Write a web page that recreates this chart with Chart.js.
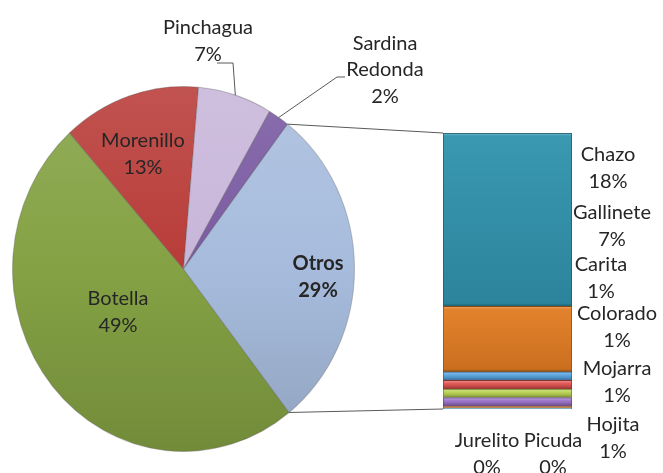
<!DOCTYPE html>
<html>
<head>
<meta charset="utf-8">
<script src="https://cdn.jsdelivr.net/npm/chart.js@4.4.1/dist/chart.umd.min.js"></script>
<style>
  html, body { margin: 0; padding: 0; background: #fff; }
  #wrap { position: relative; width: 663px; height: 473px; overflow: hidden; }
  #wrap canvas { position: absolute; left: 0; top: 0; }
</style>
</head>
<body>
<div id="wrap">
  <canvas id="pieChart" width="663" height="473"></canvas>
  <canvas id="barChart" width="663" height="473"></canvas>
</div>
<script>
// Pie: main species
const pieLabels = ["Botella", "Morenillo", "Pinchagua", "Sardina Redonda", "Otros"];
const pieValues = [49, 13, 7, 2, 29];
const pieColors = ["#84a244", "#b83c38", "#c8b6da", "#7a5aa2", "#a7bcdd"];

// Bar: breakdown of "Otros" (top to bottom)
const barLabels = ["Chazo", "Gallinete", "Carita", "Colorado", "Mojarra", "Hojita", "Picuda", "Jurelito"];
const barValues = [18.2, 6.9, 0.9, 0.9, 0.9, 0.9, 0.2, 0.1];
const barColors = ["#3093ad", "#e27b22", "#58a3df", "#e05352", "#b9d352", "#9a72c9", "#f0a064", "#7dc3da"];

// layout of text (block centres) and leader stubs
const pieTextPos = [[118, 312], [143, 154], [208, 41], [385, 70], [318, 277]];
const pieLeaders = { 2: [[217, 63], [233, 63]], 3: [[345, 77], [337, 77]] };
const barTextPos = [[608, 168], [612, 226], [601, 278], [617, 327], [617, 382], [613, 438], [553, 454], [487, 454]];
const SY = 183 / 171.5; // pie is drawn slightly taller than wide
const FONT = "Lato, 'Open Sans', sans-serif";
const LINE_H = 26.5;
const TEXT = "#262626";

function shade(hex, amt) {
  const n = parseInt(hex.slice(1), 16);
  let r = n >> 16, g = (n >> 8) & 255, b = n & 255;
  const t = amt < 0 ? 0 : 255, p = Math.abs(amt);
  r = Math.round(r + (t - r) * p);
  g = Math.round(g + (t - g) * p);
  b = Math.round(b + (t - b) * p);
  return `rgb(${r},${g},${b})`;
}

function drawBlock(ctx, lines, x, y, bold) {
  ctx.save();
  ctx.font = (bold ? "bold " : "") + "20px " + FONT;
  ctx.fillStyle = TEXT;
  ctx.textAlign = "center";
  ctx.textBaseline = "middle";
  const top = y - (lines.length - 1) * LINE_H / 2;
  lines.forEach((l, i) => ctx.fillText(l, x, top + i * LINE_H));
  ctx.restore();
}

function arcPoint(arc, angle) {
  return [arc.x + arc.outerRadius * Math.cos(angle), arc.y + arc.outerRadius * Math.sin(angle) * SY];
}

const pieTotal = pieValues.reduce((a, b) => a + b, 0);
const barTotal = barValues.reduce((a, b) => a + b, 0);

function pieFill(c) {
  const base = pieColors[c.dataIndex];
  const a = c.chart.chartArea;
  if (!a) return base;
  const g = c.chart.ctx.createLinearGradient(0, a.top, 0, a.bottom);
  g.addColorStop(0, shade(base, 0.12));
  g.addColorStop(0.5, base);
  g.addColorStop(1, shade(base, -0.14));
  return g;
}

function barFill(c) {
  const name = c.dataset.label;
  const i = barLabels.indexOf(name);
  const base = barColors[i];
  const y = c.chart.scales.y;
  if (!y || !c.chart.chartArea) return base;
  let below = 0;
  for (let k = i + 1; k < barLabels.length; k++) below += barValues[k];
  const yTop = y.getPixelForValue(below + barValues[i]);
  const yBot = y.getPixelForValue(below);
  const h = Math.max(yBot - yTop, 1);
  const g = c.chart.ctx.createLinearGradient(0, yTop, 0, yBot);
  const edge = Math.min(3 / h, 0.4);
  g.addColorStop(0, shade(base, 0.35));
  g.addColorStop(edge, shade(base, 0.05));
  g.addColorStop(1 - edge, shade(base, -0.1));
  g.addColorStop(1, shade(base, -0.35));
  return g;
}

const ellipsePlugin = {
  id: "ellipse",
  beforeDatasetsDraw(chart) {
    const arc = chart.getDatasetMeta(0).data[0];
    const ctx = chart.ctx;
    ctx.save();
    ctx.translate(arc.x, arc.y);
    ctx.scale(1, SY);
    ctx.translate(-arc.x, -arc.y);
  },
  afterDatasetsDraw(chart) {
    chart.ctx.restore();
  },
  afterDraw(chart) {
    const ctx = chart.ctx;
    const arcs = chart.getDatasetMeta(0).data;
    pieLabels.forEach((name, i) => {
      const pct = Math.round(pieValues[i] / pieTotal * 100) + "%";
      const lines = name.split(" ").concat([pct]);
      const [x, y] = pieTextPos[i];
      drawBlock(ctx, lines, x, y, name === "Otros");
      if (pieLeaders[i]) {
        const arc = arcs[i];
        const end = arcPoint(arc, (arc.startAngle + arc.endAngle) / 2);
        ctx.save();
        ctx.strokeStyle = "#595959";
        ctx.lineWidth = 1;
        ctx.beginPath();
        pieLeaders[i].forEach((p, k) => (k ? ctx.lineTo(p[0], p[1]) : ctx.moveTo(p[0], p[1])));
        ctx.lineTo(end[0], end[1]);
        ctx.stroke();
        ctx.restore();
      }
    });
  }
};

const pieChart = new Chart(document.getElementById("pieChart"), {
  type: "pie",
  data: {
    labels: pieLabels,
    datasets: [{
      data: pieValues,
      backgroundColor: pieFill,
      borderColor: "rgba(90,90,90,0.35)",
      borderWidth: 1,
      clip: false
    }]
  },
  options: {
    responsive: false,
    animation: false,
    rotation: 141.85,
    layout: { padding: { left: 12, right: 308, top: 97.5, bottom: 32.5 } },
    plugins: { legend: { display: false }, tooltip: { enabled: false } }
  },
  plugins: [ellipsePlugin]
});

const connectorPlugin = {
  id: "connector",
  afterDraw(chart) {
    const ctx = chart.ctx;
    const area = chart.chartArea;
    const yScale = chart.scales.y;
    const otros = pieChart.getDatasetMeta(0).data[pieLabels.indexOf("Otros")];
    const p1 = arcPoint(otros, otros.startAngle);
    const p2 = arcPoint(otros, otros.endAngle);
    ctx.save();
    ctx.strokeStyle = "#595959";
    ctx.lineWidth = 1;
    ctx.beginPath();
    ctx.moveTo(p1[0], p1[1]);
    ctx.lineTo(area.left, yScale.getPixelForValue(barTotal));
    ctx.moveTo(p2[0], p2[1]);
    ctx.lineTo(area.left, yScale.getPixelForValue(0));
    ctx.stroke();
    ctx.restore();
    barLabels.forEach((name, i) => {
      const [x, y] = barTextPos[i];
      drawBlock(ctx, [name, Math.round(barValues[i]) + "%"], x, y, false);
    });
  }
};

new Chart(document.getElementById("barChart"), {
  type: "bar",
  data: {
    labels: [""],
    datasets: barLabels.map((name, i) => ({
      label: name,
      data: [barValues[i]],
      backgroundColor: barFill,
      borderColor: shade(barColors[i], -0.4),
      borderWidth: 1,
      barPercentage: 1,
      categoryPercentage: 1
    })).reverse()
  },
  options: {
    responsive: false,
    animation: false,
    layout: { padding: { left: 443, right: 91, top: 133, bottom: 64 } },
    scales: {
      x: { stacked: true, display: false },
      y: { stacked: true, display: false, min: 0, max: barTotal }
    },
    plugins: { legend: { display: false }, tooltip: { enabled: false } }
  },
  plugins: [connectorPlugin]
});
</script>
</body>
</html>
